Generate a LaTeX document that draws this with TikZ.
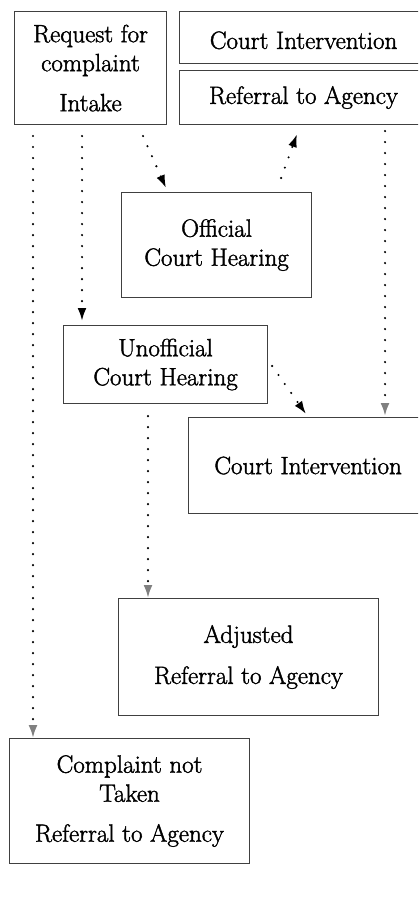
\documentclass[tikz,border=0pt]{standalone}
\usepackage{fontspec}
\newfontfamily\boxfont{Latin Modern Roman}[FakeBold=1.6]
\usetikzlibrary{arrows.meta}
\begin{document}
\begin{tikzpicture}[x=1pt,y=-1pt,
  box/.style={draw=black!75, line width=1.1pt, rectangle, inner sep=0pt, anchor=north west, align=center, font=\boxfont\fontsize{25}{29}\selectfont},
  conn/.style={line width=2.3pt, dash pattern=on 0pt off 11pt, line cap=round, -{Latex[length=13pt,width=9pt]}},
  conng/.style={conn, -{Latex[length=13pt,width=9pt,color=black!50]}}]
\useasboundingbox (0,0) rectangle (418,904);
\clip (0,0) rectangle (418,904);
\node[box, minimum width=152pt, minimum height=113pt] (req) at (14,11) {Request for\\complaint\\[11pt]Intake};
\node[box, minimum width=248pt, minimum height=52pt, text height=23pt] (ci1) at (179,11) {Court Intervention};
\node[box, minimum width=248pt, minimum height=54pt] (rta) at (179,70) {Referral to Agency};
\node[box, minimum width=190pt, minimum height=105pt] (off) at (121,192) {Official\\Court Hearing};
\node[box, minimum width=204pt, minimum height=78pt] (unoff) at (63,325) {Unofficial\\Court Hearing};
\node[box, minimum width=239pt, minimum height=96pt] (ci2) at (188,417) {Court Intervention};
\node[box, minimum width=260pt, minimum height=117pt] (adj) at (118,598) {Adjusted\\[12pt]Referral to Agency};
\node[box, minimum width=240pt, minimum height=125pt] (cnt) at (9,738) {Complaint not\\Taken\\[11pt]Referral to Agency};
\draw[conng] ([xshift=19pt,yshift=-11pt]req.south west) -- ([xshift=24pt]cnt.north west);
\draw[conn] ([xshift=68pt,yshift=-11pt]req.south west) -- ([xshift=19pt,yshift=4pt]unoff.north west);
\draw[conn] ([xshift=129pt,yshift=-11pt]req.south west) -- ([xshift=45pt,yshift=4pt]off.north west);
\draw[conn] ([xshift=-31pt,yshift=14pt]off.north east) -- ([xshift=118pt,yshift=-9pt]rta.south west);
\draw[conng] ([xshift=206pt,yshift=-6pt]rta.south west) -- ([xshift=197pt,yshift=1pt]ci2.north west);
\draw[conn] ([xshift=4pt,yshift=-41pt]unoff.north east) -- ([xshift=118pt,yshift=3pt]ci2.north west);
\draw[conng] ([xshift=85pt,yshift=-12pt]unoff.south west) -- ([xshift=30pt]adj.north west);
\end{tikzpicture}
\end{document}
